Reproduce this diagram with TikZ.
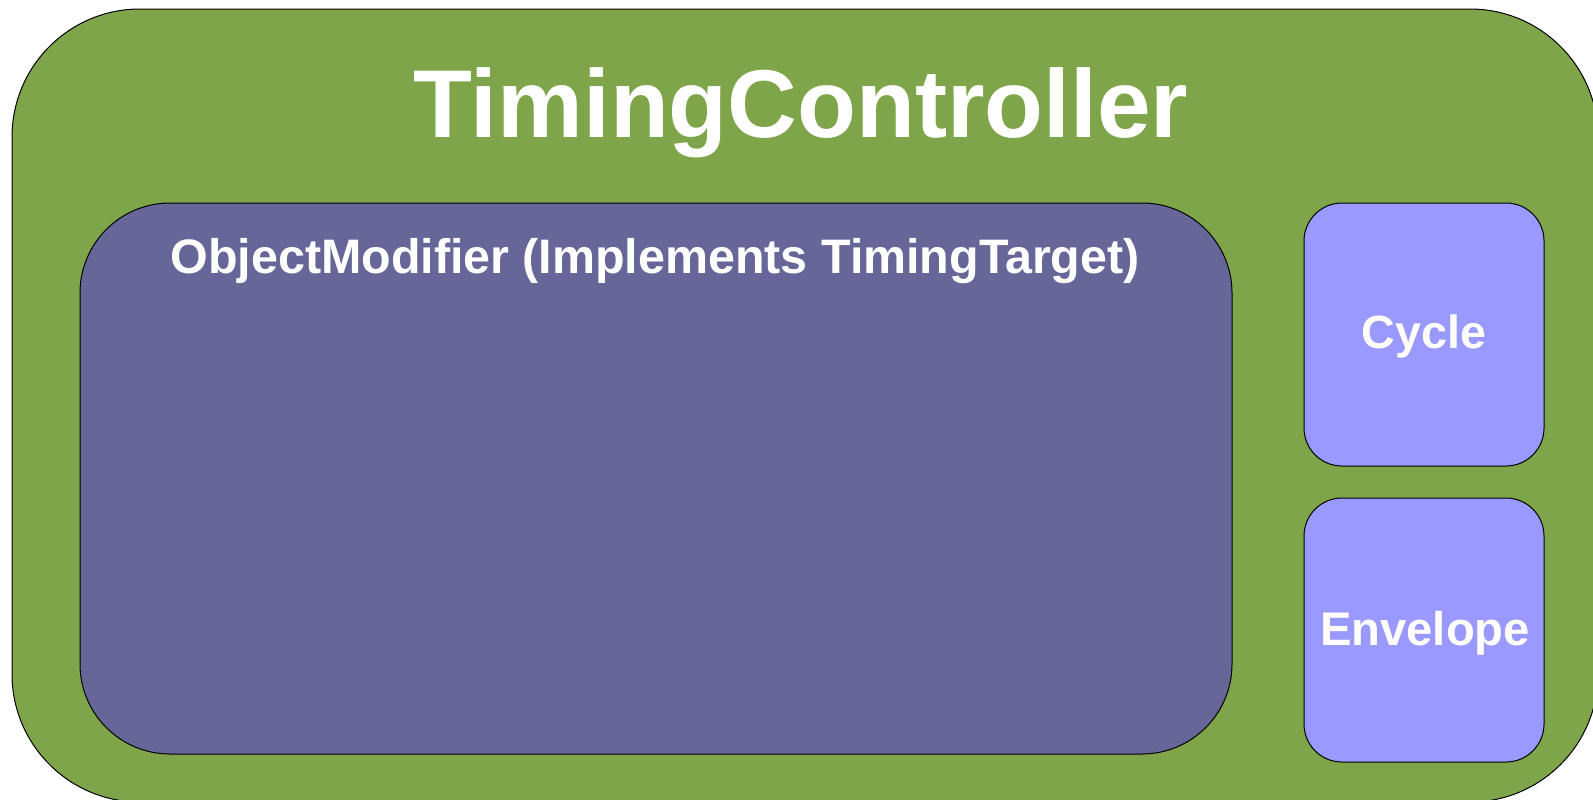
\documentclass[tikz,border=0pt]{standalone}
\usepackage{fontspec}
\setmainfont{Liberation Sans}
\definecolor{ctrlgreen}{RGB}{126,165,73}
\definecolor{modpurple}{RGB}{102,102,153}
\definecolor{partblue}{RGB}{153,153,255}
\begin{document}
\begin{tikzpicture}[x=0.5pt, y=-0.5pt,
    box/.style={draw=black, line width=0.5pt},
    lbl/.style={text=white, anchor=base, inner sep=0pt}]
    \useasboundingbox (0,0) rectangle (1593,799);
    \clip (0,0) rectangle (1593,799);

    \draw [box, fill=ctrlgreen, rounded corners=64pt] (12,9) rectangle (1598,802);
    \node [lbl, font=\bfseries\fontsize{48.2}{52}\selectfont] (controller) at (801,137) {TimingController};

    \draw [box, fill=modpurple, rounded corners=45pt] (80,203) rectangle (1232,754);
    \node [lbl, font=\bfseries\fontsize{24.2}{26}\selectfont] (modifier) at (655,273) {ObjectModifier (Implements TimingTarget)};

    \draw [box, fill=partblue, rounded corners=19pt] (1304,203) rectangle (1544,466);
    \node [lbl, font=\bfseries\fontsize{23.3}{26}\selectfont] (cycle) at (1424,348) {Cycle};

    \draw [box, fill=partblue, rounded corners=19pt] (1304,498) rectangle (1544,762);
    \node [lbl, font=\bfseries\fontsize{23.6}{26}\selectfont] (envelope) at (1425,645) {Envelope};
  \end{tikzpicture}
\end{document}
